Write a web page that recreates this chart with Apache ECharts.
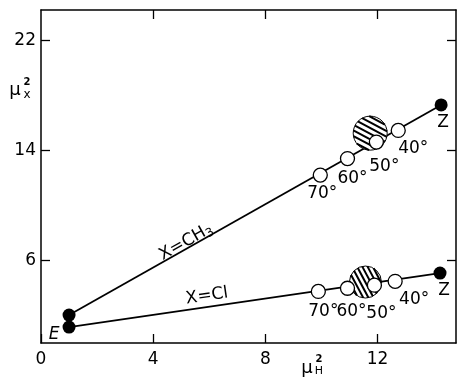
<!DOCTYPE html>
<html><head><meta charset="utf-8">
<script src="https://cdn.jsdelivr.net/npm/echarts@6/dist/echarts.min.js"></script>
<style>html,body{margin:0;padding:0;background:#fff}#c{width:459px;height:377px}</style>
</head><body><div id="c"></div>
<script>
// ---- data ----
const xTicks = [0, 4, 8, 12];
const yTicks = [6, 14, 22];
const ch3Line = [[1.0, 2.03], [14.27, 17.3]];
const clLine = [[1.0, 1.16], [14.23, 5.08]];
const ch3Angles = [[9.96, 12.2], [10.93, 13.4], [11.96, 14.6], [12.74, 15.45]];
const clAngles = [[9.89, 3.75], [10.93, 3.98], [11.89, 4.2], [12.63, 4.48]];
const angleLabels = ['70°', '60°', '50°', '40°'];
const ch3Hatch = [[11.74, 15.25]];
const clHatch = [[11.57, 4.43]];

// ---- presentation ----
const FONT = 'DejaVu Sans';
const ch3Offsets = [[2, 18], [5, 20], [8, 24], [15, 18]];
const clOffsets = [[5, 20], [4, 23], [7, 28], [19, 18]];

function angleData(pts, offs) {
  return pts.map((p, i) => ({
    value: p,
    label: { show: true, formatter: angleLabels[i], position: 'inside', offset: offs[i] }
  }));
}
const lbl = { color: '#000', fontFamily: FONT, fontSize: 17 };

function hatchRenderer(radius, angleDeg, period) {
  return function (params, api) {
    const c = api.coord([api.value(0), api.value(1)]);
    const a = angleDeg * Math.PI / 180;
    const t = [Math.cos(a), Math.sin(a)];
    const n = [-Math.sin(a), Math.cos(a)];
    const children = [{ type: 'circle', shape: { cx: c[0], cy: c[1], r: radius },
      style: { fill: '#fff', stroke: '#000', lineWidth: 1 } }];
    for (let d = -radius + period / 2; d < radius; d += period) {
      const h = Math.sqrt(radius * radius - d * d);
      const mx = c[0] + d * n[0], my = c[1] + d * n[1];
      children.push({ type: 'line',
        shape: { x1: mx - h * t[0], y1: my - h * t[1], x2: mx + h * t[0], y2: my + h * t[1] },
        style: { stroke: '#000', lineWidth: 2 } });
    }
    return { type: 'group', children };
  };
}

const chart = echarts.init(document.getElementById('c'), null, { renderer: 'canvas' });
const axisLine = { show: true, onZero: false, lineStyle: { color: '#000', width: 1.5 } };
const tick = { show: true, inside: true, length: 9, lineStyle: { color: '#000', width: 1.3 } };

chart.setOption({
  animation: false,
  backgroundColor: '#fff',
  grid: { left: 41, right: 3, top: 10, bottom: 34, containLabel: false },
  xAxis: [
    { type: 'value', position: 'bottom', min: 0, max: 14.8, interval: 4,
      axisLine, axisTick: { ...tick, customValues: xTicks }, splitLine: { show: false },
      axisLabel: { ...lbl, margin: 8, customValues: xTicks } },
    { type: 'value', position: 'top', min: 0, max: 14.8, interval: 4,
      axisLine, axisTick: { ...tick, customValues: xTicks.slice(1) }, splitLine: { show: false },
      axisLabel: { show: false } }
  ],
  yAxis: [
    { type: 'value', position: 'left', min: 0, max: 24.2,
      axisLine, axisTick: { ...tick, customValues: yTicks }, splitLine: { show: false },
      axisLabel: { ...lbl, margin: 5, customValues: yTicks } },
    { type: 'value', position: 'right', min: 0, max: 24.2,
      axisLine, axisTick: { ...tick, customValues: yTicks }, splitLine: { show: false },
      axisLabel: { show: false } }
  ],
  series: [
    { type: 'line', data: ch3Line, symbol: 'none', lineStyle: { color: '#000', width: 1.8 }, z: 1 },
    { type: 'line', data: clLine, symbol: 'none', lineStyle: { color: '#000', width: 1.8 }, z: 1 },
    { type: 'custom', data: ch3Hatch, z: 2, renderItem: hatchRenderer(17, 28, 5) },
    { type: 'custom', data: clHatch, z: 2, renderItem: hatchRenderer(16, 62, 4.6) },
    { type: 'scatter', data: angleData(ch3Angles, ch3Offsets), symbolSize: 14, z: 3,
      itemStyle: { color: '#fff', borderColor: '#000', borderWidth: 1.3, opacity: 1 }, label: lbl },
    { type: 'scatter', data: angleData(clAngles, clOffsets), symbolSize: 14, z: 3,
      itemStyle: { color: '#fff', borderColor: '#000', borderWidth: 1.3, opacity: 1 }, label: lbl },
    { type: 'scatter', symbolSize: 13, z: 4,
      itemStyle: { color: '#000', opacity: 1 },
      label: { ...lbl, show: false },
      data: [
        { value: ch3Line[0] },
        { value: clLine[0], label: { show: true, formatter: 'E', position: 'inside', offset: [-15, 8], fontStyle: 'italic' } },
        { value: ch3Line[1], label: { show: true, formatter: 'Z', position: 'inside', offset: [2, 18] } },
        { value: clLine[1], label: { show: true, formatter: 'Z', position: 'inside', offset: [4, 17] } }
      ] }
  ],
  graphic: [
    { type: 'text', x: 15, y: 90, style: { text: 'μ', font: '18px ' + FONT, fill: '#000', align: 'center', verticalAlign: 'middle' } },
    { type: 'text', x: 27, y: 82, style: { text: '2', font: 'bold 10px ' + FONT, fill: '#000', align: 'center', verticalAlign: 'middle' } },
    { type: 'text', x: 27, y: 95, style: { text: 'x', font: '12px ' + FONT, fill: '#000', align: 'center', verticalAlign: 'middle' } },
    { type: 'text', x: 307, y: 368, style: { text: 'μ', font: '18px ' + FONT, fill: '#000', align: 'center', verticalAlign: 'middle' } },
    { type: 'text', x: 319, y: 359, style: { text: '2', font: 'bold 10px ' + FONT, fill: '#000', align: 'center', verticalAlign: 'middle' } },
    { type: 'text', x: 319, y: 371, style: { text: 'H', font: '11px ' + FONT, fill: '#000', align: 'center', verticalAlign: 'middle' } },
    { type: 'text', x: 186, y: 242, rotation: 0.513,
      style: { text: '{a|X=CH}{b|3}', align: 'center', verticalAlign: 'middle', fill: '#000',
        rich: { a: { fontFamily: FONT, fontSize: 17, fill: '#000' }, b: { fontFamily: FONT, fontSize: 12, fill: '#000', padding: [8, 0, 0, 0] } } } },
    { type: 'text', x: 207, y: 296, rotation: 0.145,
      style: { text: 'X=Cl', font: '17px ' + FONT, fill: '#000', align: 'center', verticalAlign: 'middle' } }
  ]
});
</script></body></html>
